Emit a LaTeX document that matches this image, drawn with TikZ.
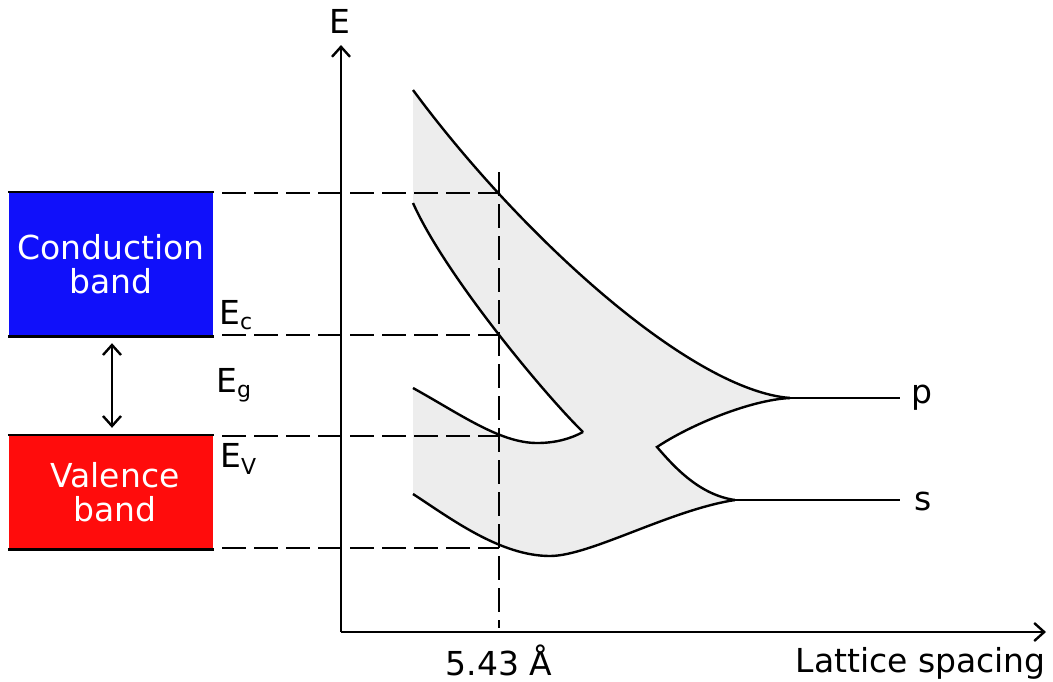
\documentclass[tikz,border=0pt]{standalone}
\usepackage{fontspec}
\setmainfont{DejaVu Sans}
\usetikzlibrary{arrows.meta}
\definecolor{cbblue}{RGB}{16,16,250}
\definecolor{vbred}{RGB}{255,12,12}
\definecolor{bandgray}{RGB}{237,237,237}
\newcommand{\lsub}[2][-5pt]{\raisebox{#1}{\fontsize{22}{22}\selectfont #2}}
\begin{document}
\begin{tikzpicture}[x=1pt,y=-1pt, line width=2.4pt,
  >={Straight Barb[length=10pt,width=18pt]},
  lbl/.style={font=\fontsize{33}{34}\selectfont, inner sep=0pt},
  bandbox/.style={lbl, minimum width=204pt, text=white, align=center},
  dashln/.style={dash pattern=on 24pt off 8pt, line width=2.4pt},
  axis/.style={->, line width=2.4pt}]
\useasboundingbox (0,0) rectangle (1053,681);
% bands
\node[bandbox, fill=cbblue, minimum height=142pt] (cb) at (111,264) {Conduction\\band};
\node[bandbox, fill=vbred, minimum height=112pt] (vb) at (111,492) {\hspace*{8pt}Valence\\\hspace*{8pt}band};
\draw[line width=2.6pt] (cb.north west) -- (cb.north east);
\draw[line width=2.6pt] (cb.south west) -- (cb.south east);
\draw[line width=2.6pt] (vb.north west) -- (vb.north east);
\draw[line width=2.6pt] (vb.south west) -- (vb.south east);
\draw[<->] ([xshift=1pt,yshift=-7pt]cb.south) -- ([xshift=1pt,yshift=7pt]vb.north);
% key points
\coordinate (c1s) at (413,90);
\coordinate (c2s) at (413,203);
\coordinate (c3s) at (413,388);
\coordinate (c5s) at (413,494);
\coordinate (pP) at (790,398);
\coordinate (sP) at (735,500);
\coordinate (tipL) at (583,432);
\coordinate (tipR) at (657,447);
\coordinate (m3) at (537,443);
\coordinate (m5) at (550,556);
% shaded band region
\fill[bandgray] (c1s) .. controls (520,235) and (690,390) .. (pP)
  .. controls (750,400) and (690,425) .. (tipR)
  .. controls (675,468) and (700,495) .. (sP)
  .. controls (670,510) and (590,556) .. (m5)
  .. controls (500,556) and (450,518) .. (c5s)
  -- (c3s) .. controls (460,414) and (500,443) .. (m3)
  .. controls (555,443) and (570,439) .. (tipL)
  .. controls (545,395) and (445,275) .. (c2s) -- cycle;
% dashed guide lines
\coordinate (vtop) at (499,172);
\coordinate (vbot) at (499,628);
\coordinate (h1) at (222,193); \coordinate (h1e) at (499,193);
\coordinate (h2) at (222,335); \coordinate (h2e) at (499,335);
\coordinate (h3) at (222,436); \coordinate (h3e) at (499,436);
\coordinate (h4) at (222,548); \coordinate (h4e) at (499,548);
\draw[dashln] (h1) -- (h1e);
\draw[dashln] (h2) -- (h2e);
\draw[dashln] (h3) -- (h3e);
\draw[dashln] (h4) -- (h4e);
\draw[dashln] (vtop) -- (vbot);
% band curves
\draw (c1s) .. controls (520,235) and (690,390) .. (pP);
\draw (c2s) .. controls (445,275) and (545,395) .. (tipL);
\draw (c3s) .. controls (460,414) and (500,443) .. (m3) .. controls (555,443) and (570,439) .. (tipL);
\draw (pP) .. controls (750,400) and (690,425) .. (tipR) .. controls (675,468) and (700,495) .. (sP);
\draw (c5s) .. controls (450,518) and (500,556) .. (m5) .. controls (590,556) and (670,510) .. (sP);
\coordinate (pE) at (900,398);
\coordinate (sE) at (900,500);
\draw (pP) -- (pE);
\draw (sP) -- (sE);
% axes
\coordinate (O) at (341,632);
\coordinate (ytop) at (341,45);
\coordinate (xend) at (1046,632);
\draw[axis] (O) -- (ytop);
\draw[axis] (O) -- (xend);
% labels
\node[lbl, anchor=base] (Elab) at (340,33) {E};
\node[lbl, anchor=base] (xtick) at (499,675) {5.43 Å};
\node[lbl, anchor=base east] (xlab) at (1047,672) {Lattice spacing};
\node[lbl, anchor=base west] (plab) at (910,403) {p};
\node[lbl, anchor=base west] (slab) at (913,510) {s};
\node[lbl, anchor=base west] (Ec) at (218,324) {E\lsub{c}};
\node[lbl, anchor=base west] (Eg) at (215,392) {E\lsub{g}};
\node[lbl, anchor=base west] (Ev) at (219,467) {E\lsub[-7pt]{V}};
\end{tikzpicture}
\end{document}
